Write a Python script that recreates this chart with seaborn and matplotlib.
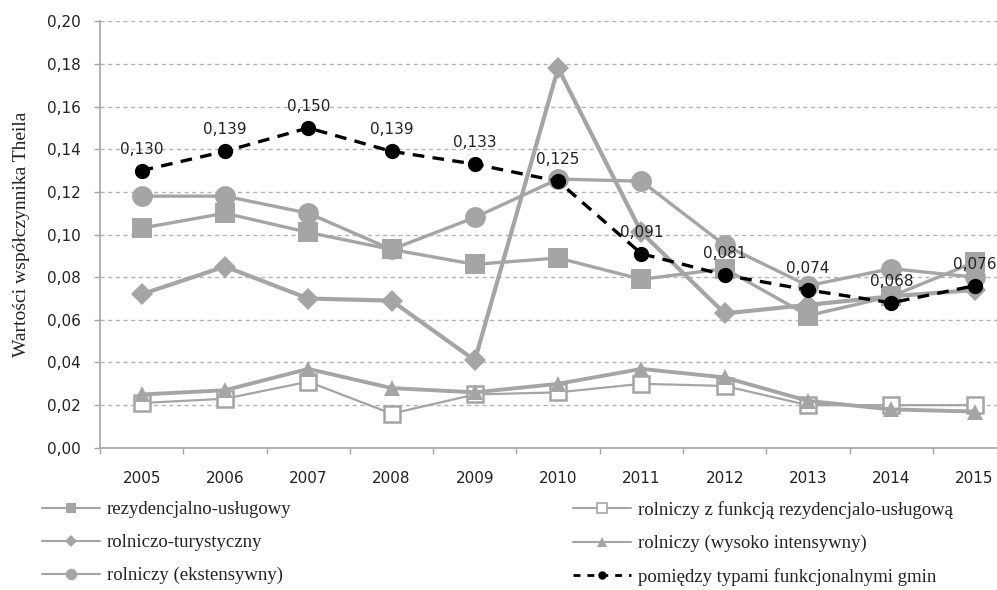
import matplotlib
matplotlib.use("Agg")
import matplotlib.pyplot as plt
import seaborn as sns
import pandas as pd
from matplotlib.lines import Line2D
from matplotlib.ticker import FixedLocator, FuncFormatter

years = list(range(2005, 2016))

rezydencjalno = [0.103, 0.110, 0.101, 0.093, 0.086, 0.089, 0.079, 0.084, 0.062, 0.071, 0.087]
z_funkcja = [0.021, 0.023, 0.031, 0.016, 0.025, 0.026, 0.030, 0.029, 0.020, 0.020, 0.020]
turystyczny = [0.072, 0.085, 0.070, 0.069, 0.041, 0.178, 0.101, 0.063, 0.067, 0.071, 0.074]
wysoko = [0.025, 0.027, 0.037, 0.028, 0.026, 0.030, 0.037, 0.033, 0.022, 0.018, 0.017]
ekstensywny = [0.118, 0.118, 0.110, 0.093, 0.108, 0.126, 0.125, 0.095, 0.076, 0.084, 0.080]
pomiedzy = [0.130, 0.139, 0.150, 0.139, 0.133, 0.125, 0.091, 0.081, 0.074, 0.068, 0.076]

labels = ["rezydencjalno-usługowy", "rolniczy z funkcją rezydencjalo-usługową",
          "rolniczo-turystyczny", "rolniczy (wysoko intensywny)",
          "rolniczy (ekstensywny)", "pomiędzy typami funkcjonalnymi gmin"]

sns.set_theme(style="white")
plt.rcParams['font.family'] = ['Liberation Serif', 'DejaVu Serif']

GREY = "#A5A5A5"
SANS = "DejaVu Sans"

df = pd.DataFrame({"rok": years, labels[0]: rezydencjalno, labels[1]: z_funkcja,
                   labels[2]: turystyczny, labels[3]: wysoko,
                   labels[4]: ekstensywny, labels[5]: pomiedzy})

fig = plt.figure(figsize=(9.97, 5.9), dpi=100)
ax = fig.add_axes([0.1003, 0.241, 0.919, 0.723])

# (kolor, marker, rozmiar, grubosc linii, wypelnienie, styl)
styles = {
    labels[0]: (GREY, "s", 14, 2.4, GREY, "-"),
    labels[1]: (GREY, "s", 12, 1.6, "white", "-"),
    labels[2]: (GREY, "D", 11, 3.0, GREY, "-"),
    labels[3]: (GREY, "^", 12, 2.8, GREY, "-"),
    labels[4]: (GREY, "o", 15, 2.4, GREY, "-"),
    labels[5]: ("black", "o", 11, 2.4, "black", (0, (3.5, 2.5))),
}

draw_order = [labels[1], labels[3], labels[2], labels[0], labels[4], labels[5]]
for name in draw_order:
    c, m, ms, lw, fc, ls = styles[name]
    sns.lineplot(data=df, x="rok", y=name, ax=ax, color=c, marker=m, markersize=ms,
                 linewidth=lw, markerfacecolor=fc, markeredgecolor=c,
                 markeredgewidth=1.8 if fc == "white" else 0, linestyle=ls)

for x, v in zip(years, pomiedzy):
    ax.annotate(f"{v:.3f}".replace(".", ","), (x, v), xytext=(0, 10),
                textcoords="offset points", ha="center", va="bottom",
                fontsize=11, family=SANS, color="#222222")

ax.set_xlim(2004.5, 2015.5)
ax.set_ylim(0, 0.20)
ax.set_yticks([i * 0.02 for i in range(11)])
ax.yaxis.set_major_formatter(FuncFormatter(lambda v, p: f"{v:.2f}".replace(".", ",")))
ax.xaxis.set_major_locator(FixedLocator([y - 0.5 for y in years] + [2015.5]))
ax.xaxis.set_major_formatter(FuncFormatter(lambda v, p: ""))
ax.xaxis.set_minor_locator(FixedLocator(years))
ax.xaxis.set_minor_formatter(FuncFormatter(lambda v, p: str(int(round(v)))))
ax.tick_params(axis="x", which="major", length=4, color=GREY, width=1, direction="out", bottom=True)
ax.tick_params(axis="x", which="minor", length=0, labelsize=11, pad=17, bottom=True)
ax.tick_params(axis="y", length=4, color=GREY, width=1, direction="out", labelsize=11,
               pad=10, left=True)
for t in ax.get_xticklabels(minor=True) + ax.get_yticklabels():
    t.set_family(SANS)
    t.set_color("#222222")

ax.grid(axis="y", color="#B4B4B4", linestyle=(0, (3, 2.5)), linewidth=1)
ax.set_axisbelow(True)
for s in ["top", "right"]:
    ax.spines[s].set_visible(False)
for s in ["left", "bottom"]:
    ax.spines[s].set_color(GREY)
    ax.spines[s].set_linewidth(1.2)

ax.set_xlabel("")
ax.set_ylabel("Wartości współczynnika Theila", fontsize=14, labelpad=12, color="#222222")
if ax.get_legend():
    ax.get_legend().remove()

handles = []
for name in labels:
    c, m, ms, lw, fc, ls = styles[name]
    handles.append(Line2D([0], [0], color=c, marker=m, markersize=ms * 0.55,
                          linewidth=1.5 if c == GREY else 2.0,
                          markerfacecolor=fc, markeredgecolor=c,
                          linestyle=ls if c == GREY else (0, (2.5, 2.5)),
                          markeredgewidth=1.2 if fc == "white" else 0))

leg_kw = dict(loc="upper left", frameon=False, fontsize=13.5, handlelength=3.1,
              handletextpad=0.35, labelspacing=0.85, borderpad=0, borderaxespad=0)
leg1 = fig.legend([handles[i] for i in [0, 2, 4]], [labels[i] for i in [0, 2, 4]],
                  bbox_to_anchor=(42 / 997, 1 - 501 / 590), **leg_kw)
leg2 = fig.legend([handles[i] for i in [1, 3, 5]], [labels[i] for i in [1, 3, 5]],
                  bbox_to_anchor=(573 / 997, 1 - 501 / 590), **leg_kw)
for leg in (leg1, leg2):
    for t in leg.get_texts():
        t.set_color("#222222")

fig.savefig("out.png", dpi=100)
